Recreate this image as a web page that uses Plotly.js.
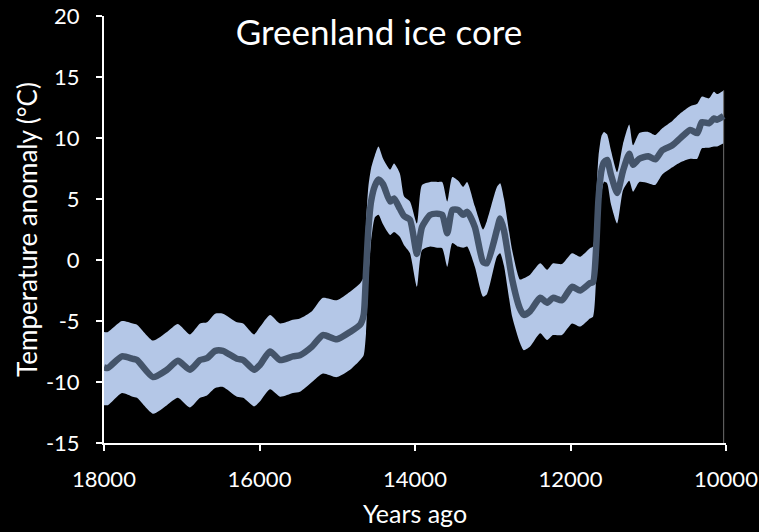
<!DOCTYPE html>
<html>
<head>
<meta charset="utf-8">
<script src="https://cdn.plot.ly/plotly-3.0.1.min.js"></script>
<style>
  html, body { margin: 0; padding: 0; background: #000; }
  #chart { width: 759px; height: 532px; }
</style>
</head>
<body>
<div id="chart"></div>
<script>
// Years before present
const years = [18000, 17950, 17770, 17630, 17575, 17370, 17190, 17050, 16895, 16765,
  16675, 16570, 16470, 16290, 16210, 16070, 15995, 15865, 15735, 15570,
  15480, 15325, 15185, 15005, 14835, 14705, 14660, 14630, 14600, 14565,
  14515, 14470, 14410, 14320, 14270, 14195, 14140, 14065, 13975, 13910,
  13805, 13715, 13650, 13585, 13520, 13445, 13380, 13330, 13230, 13125,
  13075, 12945, 12905, 12855, 12750, 12650, 12600, 12520, 12390, 12300,
  12225, 12110, 11980, 11875, 11750, 11710, 11670, 11640, 11600, 11570,
  11530, 11480, 11400, 11325, 11245, 11195, 11115, 11000, 10910, 10820,
  10690, 10590, 10460, 10370, 10310, 10220, 10155, 10115, 10030];

// Mean temperature anomaly (°C)
const meanTemp = [-8.8, -8.85, -7.9, -8.1, -8.2, -9.6, -9.0, -8.25, -9.0, -8.2,
  -8.05, -7.45, -7.45, -8.1, -8.2, -9.0, -8.6, -7.5, -8.2, -7.9,
  -7.8, -7.1, -6.15, -6.5, -5.9, -5.3, -4.5, -1.0, 2.5, 4.8,
  6.1, 6.6, 6.2, 4.8, 5.05, 4.2, 3.6, 3.3, 0.5, 2.7,
  3.7, 3.8, 3.7, 2.2, 4.1, 4.1, 3.7, 3.95, 2.7, -0.15,
  -0.27, 2.5, 3.4, 2.4, -1.6, -4.0, -4.5, -4.2, -3.1, -3.5,
  -3.1, -3.3, -2.2, -2.5, -1.9, -1.8, 1.0, 5.0, 7.4, 8.0,
  8.2, 7.0, 5.5, 7.3, 8.7, 7.8, 8.3, 8.5, 8.25, 9.0,
  9.4, 9.97, 10.66, 10.4, 11.3, 11.2, 11.6, 11.5, 11.8];

// Upper bound of the uncertainty band (°C)
const upperTemp = [-5.9, -5.9, -5.0, -5.2, -5.3, -6.6, -5.9, -5.25, -6.1, -5.2,
  -5.1, -4.4, -4.4, -5.1, -5.2, -6.1, -5.5, -4.5, -5.2, -4.9,
  -4.8, -4.2, -3.1, -3.3, -2.6, -1.9, -1.4, 3.0, 6.0, 7.5,
  8.6, 9.3, 8.3, 7.4, 7.9, 7.1, 5.2, 4.8, 3.0, 6.15,
  6.4, 6.4, 6.4, 4.8, 6.8, 6.5, 6.0, 6.4, 4.4, 2.5,
  3.2, 6.0, 6.3, 5.0, 0.8, -1.6, -1.5, -1.2, -0.27, -0.8,
  -0.27, -0.33, 0.55, 0.27, 0.96, 1.1, 5.0, 8.5, 10.2, 10.5,
  10.3, 9.0, 7.2, 9.5, 11.1, 9.4, 10.4, 10.5, 10.25, 10.8,
  11.4, 12.0, 12.6, 12.8, 13.4, 13.25, 13.8, 13.6, 13.9];

// Lower bound of the uncertainty band (°C)
const lowerTemp = [-11.9, -11.9, -10.9, -11.2, -11.3, -12.6, -11.9, -11.3, -12.1, -11.3,
  -11.1, -10.5, -10.4, -11.2, -11.3, -12.0, -11.6, -10.6, -11.2, -10.9,
  -10.8, -10.0, -9.3, -9.6, -9.0, -8.2, -7.8, -6.0, -1.5, 1.5,
  3.5, 3.7, 2.9, 2.05, 2.3, 1.9, 1.2, 0.55, -2.2, 0.8,
  1.1, 1.0, 0.96, -0.55, 1.4, 1.1, 1.0, 1.1, -0.55, -3.0,
  -2.8, 0.3, 0.55, -0.5, -4.65, -6.8, -7.4, -7.1, -6.0, -6.56,
  -6.15, -6.15, -5.2, -5.46, -4.8, -4.65, -1.5, 2.0, 5.5, 6.4,
  6.3, 4.6, 3.0, 5.7, 6.5, 5.6, 6.4, 6.3, 6.15, 7.0,
  7.6, 8.0, 8.3, 8.3, 9.15, 9.2, 9.3, 9.3, 9.56];

const xTicks = [18000, 16000, 14000, 12000, 10000];
const yTicks = [-15, -10, -5, 0, 5, 10, 15, 20];
const xRange = [18000, 10000];
const yRange = [-15, 20];

const bandColor = '#b4c7e7';
const lineColor = '#44546a';
const fontFam = 'Lato, "Open Sans", sans-serif';

const last = years.length - 1;

const traces = [
  { x: years, y: upperTemp, type: 'scatter', mode: 'lines',
    line: { width: 0, shape: 'spline', smoothing: 0.6, color: bandColor },
    hoverinfo: 'skip', showlegend: false },
  { x: years, y: lowerTemp, type: 'scatter', mode: 'lines', fill: 'tonexty',
    fillcolor: bandColor,
    line: { width: 0, shape: 'spline', smoothing: 0.6, color: bandColor },
    hoverinfo: 'skip', showlegend: false },
  { x: [years[last], years[last]], y: [upperTemp[last], yRange[0]],
    type: 'scatter', mode: 'lines',
    line: { width: 1, color: '#6f6f6f' }, showlegend: false, hoverinfo: 'skip' },
  { x: years, y: meanTemp, type: 'scatter', mode: 'lines',
    line: { width: 6.5, shape: 'spline', smoothing: 0.6, color: lineColor },
    showlegend: false }
];

const layout = {
  width: 759, height: 532,
  paper_bgcolor: '#000000', plot_bgcolor: '#000000',
  margin: { l: 104, r: 33, t: 16, b: 89 },
  font: { family: fontFam, color: '#ffffff', size: 22 },
  title: { text: 'Greenland ice core', font: { family: fontFam, size: 35, color: '#ffffff' },
           x: 379 / 759, xanchor: 'center', y: 1 - 33 / 532, yanchor: 'middle' },
  xaxis: {
    range: xRange, tickvals: xTicks, ticktext: xTicks.map(String),
    showgrid: false, zeroline: false,
    showline: true, linecolor: '#ffffff', linewidth: 2,
    ticks: 'outside', ticklen: 6, tickwidth: 2, tickcolor: '#ffffff',
    tickfont: { family: fontFam, size: 22, color: '#ffffff' },
    ticklabelstandoff: 10,
    title: { text: 'Years ago', font: { family: fontFam, size: 25, color: '#ffffff' }, standoff: 14 }
  },
  yaxis: {
    range: yRange, tickvals: yTicks, ticktext: yTicks.map(String),
    showgrid: false, zeroline: false,
    showline: true, linecolor: '#ffffff', linewidth: 2,
    ticks: 'outside', ticklen: 6, tickwidth: 2, tickcolor: '#ffffff',
    tickfont: { family: fontFam, size: 22, color: '#ffffff' },
    ticklabelstandoff: 12,
    title: { text: 'Temperature anomaly (°C)', font: { family: fontFam, size: 26, color: '#ffffff' }, standoff: 1 }
  }
};

Plotly.newPlot('chart', traces, layout, { displayModeBar: false, staticPlot: true });
</script>
</body>
</html>
